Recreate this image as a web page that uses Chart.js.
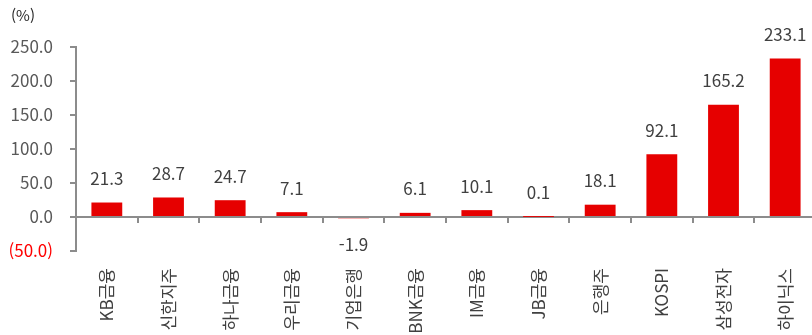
<!DOCTYPE html>
<html lang="ko">
<head>
  <meta charset="UTF-8" />
  <title>Return Chart</title>
  <script src="https://cdn.jsdelivr.net/npm/chart.js"></script>
  <style>
    body {
      margin: 0;
      background: #ffffff;
      overflow: hidden;
    }

    canvas {
      display: block;
    }
  </style>
</head>
<body>

  <!-- a little wider than the window: the right edge of the plot runs off the picture -->
  <canvas id="returnChart" width="816" height="335"></canvas>

  <script>
    // Values
    const categories = ['KB금융', '신한지주', '하나금융', '우리금융', '기업은행', 'BNK금융', 'IM금융', 'JB금융', '은행주', 'KOSPI', '삼성전자', '하이닉스'];
    const returns = [21.3, 28.7, 24.7, 7.1, -1.9, 6.1, 10.1, 0.1, 18.1, 92.1, 165.2, 233.1];
    const yTicks = [-50, 0, 50, 100, 150, 200, 250];
    const unitLabel = '(%)';

    const FONT = "'Noto Sans CJK KR', 'Noto Sans', sans-serif";
    const RED = '#e60000';
    const AXIS = '#8c8c8c';

    function formatTick(v) {
      return v < 0 ? '(' + Math.abs(v).toFixed(1) + ')' : v.toFixed(1);
    }

    // Value labels over/under each bar, the unit caption and the x tick marks at the zero line
    const extrasPlugin = {
      id: 'extras',
      afterDatasetsDraw(chart) {
        const ctx = chart.ctx;
        const meta = chart.getDatasetMeta(0);
        ctx.save();
        ctx.font = '17px ' + FONT;
        ctx.fillStyle = '#404040';
        ctx.textAlign = 'center';
        ctx.textBaseline = 'middle';
        meta.data.forEach((bar, i) => {
          const v = returns[i];
          const y = v < 0 ? bar.y + 26 : bar.y - 24;
          ctx.fillText(v.toFixed(1), bar.x, y);
        });

        // tick marks on the zero line between categories
        const x = chart.scales.x;
        const y0 = chart.scales.y.getPixelForValue(0);
        const step = x.getPixelForValue(1) - x.getPixelForValue(0);
        ctx.strokeStyle = AXIS;
        ctx.lineWidth = 2;
        ctx.beginPath();
        for (let i = 0; i < categories.length; i++) {
          const px = Math.round(x.getPixelForValue(i) + step / 2);
          ctx.moveTo(px, y0);
          ctx.lineTo(px, y0 + 6);
        }
        ctx.stroke();

        ctx.font = '15px ' + FONT;
        ctx.fillStyle = '#262626';
        ctx.textAlign = 'left';
        ctx.fillText(unitLabel, 11, 15);
        ctx.restore();
      }
    };

    new Chart(document.getElementById('returnChart'), {
      type: 'bar',
      data: {
        labels: categories,
        datasets: [{
          data: returns,
          backgroundColor: RED,
          borderWidth: 0,
          categoryPercentage: 1,
          barPercentage: 0.5
        }]
      },
      options: {
        responsive: false,
        animation: false,
        layout: {
          padding: { top: 47, right: 0, left: 0, bottom: 0 }
        },
        plugins: {
          legend: { display: false },
          tooltip: { enabled: false }
        },
        scales: {
          x: {
            grid: { display: false, drawTicks: false },
            border: { display: false },
            ticks: {
              color: '#404040',
              font: { family: FONT, size: 17 },
              minRotation: 90,
              maxRotation: 90,
              autoSkip: false,
              padding: 17
            },
            afterFit(scale) {
              scale.height = 84;
              scale.paddingLeft = 0;
              scale.paddingRight = 0;
            }
          },
          y: {
            min: -50,
            max: 250,
            afterBuildTicks(scale) {
              scale.ticks = yTicks.map(v => ({ value: v }));
            },
            border: { display: true, color: AXIS, width: 2 },
            grid: {
              drawOnChartArea: true,
              color: ctx => (ctx.tick && ctx.tick.value === 0 ? AXIS : 'rgba(0,0,0,0)'),
              lineWidth: 2,
              tickColor: AXIS,
              tickLength: 6
            },
            ticks: {
              font: { family: FONT, size: 17 },
              color: ctx => (ctx.tick.value < 0 ? '#ff0000' : '#595959'),
              padding: 17,
              callback: v => formatTick(v)
            },
            afterFit(scale) {
              scale.width = 76;
            }
          }
        }
      },
      plugins: [extrasPlugin]
    });
  </script>

</body>
</html>
